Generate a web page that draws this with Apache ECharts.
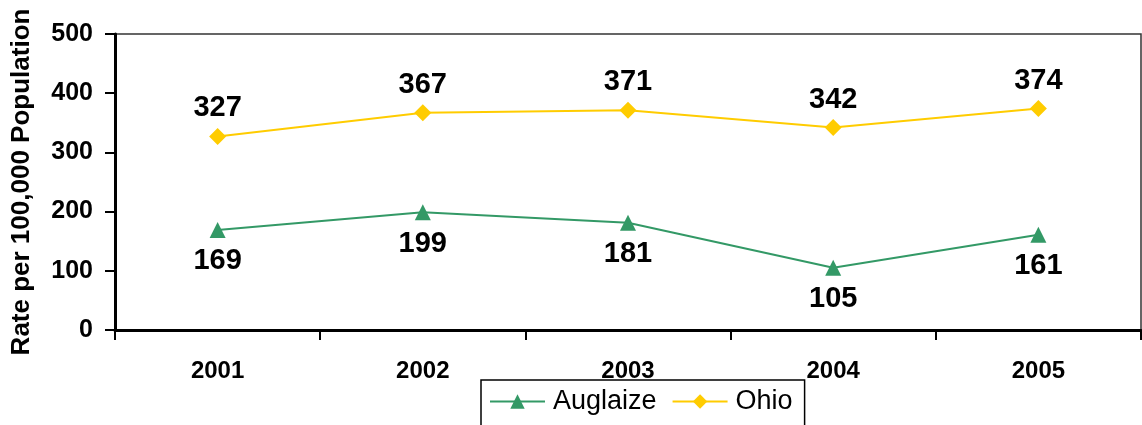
<!DOCTYPE html>
<html>
<head>
<meta charset="utf-8">
<script src="https://cdn.jsdelivr.net/npm/echarts@6/dist/echarts.min.js"></script>
<style>
  html, body { margin: 0; padding: 0; background: #fff; }
  #chart { width: 1142px; height: 425px; }
</style>
</head>
<body>
<div id="chart"></div>
<script>
var years = ['2001', '2002', '2003', '2004', '2005'];
var auglaize = [169, 199, 181, 105, 161];
var ohio = [327, 367, 371, 342, 374];
var seriesNames = ['Auglaize', 'Ohio'];

var font = '"Liberation Sans", Arial, sans-serif';

var chart = echarts.init(document.getElementById('chart'), null, { renderer: 'canvas' });

var option = {
    animation: false,
    backgroundColor: '#fff',
    textStyle: { fontFamily: font, color: '#000' },
    grid: {
        left: 115,
        right: 1,
        top: 34,
        bottom: 95,
        show: true,
        borderColor: '#333',
        borderWidth: 1.5
    },
    legend: {
        data: seriesNames,
        left: 481,
        top: 380,
        orient: 'horizontal',
        padding: [8, 12, 30, 8],
        borderColor: '#000',
        borderWidth: 1.5,
        itemWidth: 55,
        itemHeight: 18,
        itemGap: 15,
        textStyle: { fontSize: 27, color: '#000', fontFamily: font, padding: [0, 0, 0, 3] }
    },
    xAxis: {
        type: 'category',
        data: years,
        axisLine: { lineStyle: { color: '#000', width: 3 } },
        axisTick: { show: true, interval: 0, length: 10, lineStyle: { color: '#000', width: 2 } },
        axisLabel: { interval: 0, margin: 29, fontSize: 24, fontWeight: 'bold', color: '#000', fontFamily: font },
        splitLine: { show: false }
    },
    yAxis: {
        type: 'value',
        min: 0,
        max: 500,
        interval: 100,
        name: 'Rate per 100,000 Population',
        nameLocation: 'middle',
        nameGap: 80,
        nameTextStyle: { fontSize: 26, fontWeight: 'bold', color: '#000', fontFamily: font },
        axisLine: { show: true, lineStyle: { color: '#000', width: 3 } },
        axisTick: { show: true, length: 10, lineStyle: { color: '#000', width: 2 } },
        axisLabel: { margin: 22, fontSize: 25, fontWeight: 'bold', color: '#000', fontFamily: font },
        splitLine: { show: false }
    },
    series: [
        {
            name: 'Auglaize',
            type: 'line',
            data: auglaize,
            symbol: 'triangle',
            symbolSize: 16,
            itemStyle: { color: '#339966' },
            lineStyle: { color: '#339966', width: 2 },
            label: {
                show: true,
                position: 'bottom',
                distance: 9,
                fontSize: 29,
                fontWeight: 'bold',
                color: '#000',
                fontFamily: font
            }
        },
        {
            name: 'Ohio',
            type: 'line',
            data: ohio,
            symbol: 'diamond',
            symbolSize: 17,
            itemStyle: { color: '#FFCC00' },
            lineStyle: { color: '#FFCC00', width: 2 },
            label: {
                show: true,
                position: 'top',
                distance: 5,
                fontSize: 29,
                fontWeight: 'bold',
                color: '#000',
                fontFamily: font
            }
        }
    ]
};

chart.setOption(option);
</script>
</body>
</html>
